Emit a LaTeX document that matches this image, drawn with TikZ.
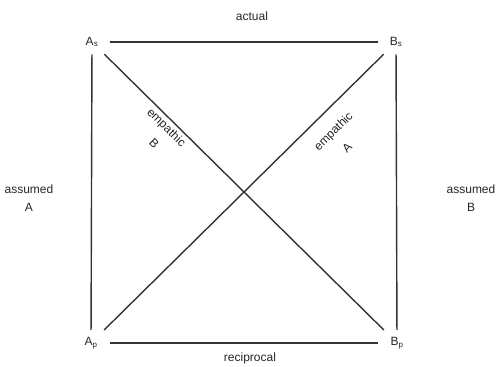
\documentclass[tikz,border=0pt]{standalone}
\usepackage{fontspec}
\setmainfont{Liberation Sans}
\begin{document}
\begin{tikzpicture}[x=1pt,y=-1pt,
  every node/.style={font=\fontsize{12}{13}\selectfont, text=black!85},
  corner/.style={inner xsep=12pt, inner ysep=7pt},
  edge/.style={draw=black!80, line width=1.4pt}]
\useasboundingbox (0,0) rectangle (496,367);
\node[corner] (As) at (92,42) {A\textsubscript{s}};
\node[corner] (Bs) at (396,42) {B\textsubscript{s}};
\node[corner] (Ap) at (91,343) {A\textsubscript{p}};
\node[corner] (Bp) at (397,343) {B\textsubscript{p}};
\draw[edge] (As) -- (Bs);
\draw[edge] (Ap) -- (Bp);
\draw[edge] (As) -- (Ap);
\draw[edge] (Bs) -- (Bp);
\draw[edge] (As) -- (Bp);
\draw[edge] (Ap) -- (Bs);
\node (actual) at (252,16) {actual};
\node (recip) at (250,358) {reciprocal};
\node (assA1) at (29,189) {assumed};
\node (assA2) at (29,207) {A};
\node (assB1) at (471,189) {assumed};
\node (assB2) at (471,207) {B};
\node[rotate=-44.6] (empB1) at (166,128) {empathic};
\node[rotate=-44.6] (empB2) at (154,143) {B};
\node[rotate=44.6] (empA1) at (334,132) {empathic};
\node[rotate=44.6] (empA2) at (347,148) {A};
\end{tikzpicture}
\end{document}
